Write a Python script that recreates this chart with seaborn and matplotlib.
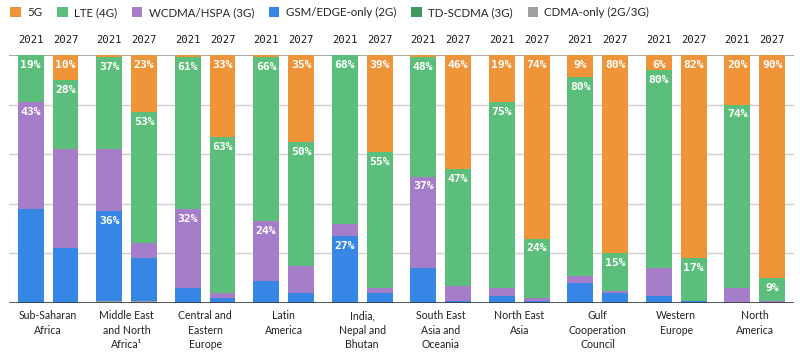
import numpy as np
import pandas as pd
import matplotlib
matplotlib.use("Agg")
import matplotlib.pyplot as plt
import matplotlib.transforms as mtransforms
from matplotlib.patches import Patch
import seaborn as sns

regions = ["Sub-Saharan\nAfrica", "Middle East\nand North\nAfrica\u00b9", "Central and\nEastern\nEurope",
           "Latin\nAmerica", "India,\nNepal and\nBhutan", "South East\nAsia and\nOceania",
           "North East\nAsia", "Gulf\nCooperation\nCouncil", "Western\nEurope", "North\nAmerica"]
years = ["2021", "2027"]
techs = ["5G", "LTE (4G)", "WCDMA/HSPA (3G)", "GSM/EDGE-only (2G)", "TD-SCDMA (3G)", "CDMA-only (2G/3G)"]

g5_2021 = [0, 1, 1, 1, 0, 1, 19, 9, 6, 20]
lte_2021 = [19, 37, 61, 66, 68, 48, 75, 80, 80, 74]
wcdma_2021 = [43, 25, 32, 24, 5, 37, 3, 3, 11, 6]
gsm_2021 = [38, 36, 6, 9, 27, 14, 3, 8, 3, 0]
td_2021 = [0, 0, 0, 0, 0, 0, 0, 0, 0, 0]
cdma_2021 = [0, 1, 0, 0, 0, 0, 0, 0, 0, 0]

g5_2027 = [10, 23, 33, 35, 39, 46, 74, 80, 82, 90]
lte_2027 = [28, 53, 63, 50, 55, 47, 24, 15, 17, 9]
wcdma_2027 = [40, 6, 2, 11, 2, 6, 1, 1, 0, 1]
gsm_2027 = [22, 17, 2, 4, 4, 1, 1, 4, 1, 0]
td_2027 = [0, 0, 0, 0, 0, 0, 0, 0, 0, 0]
cdma_2027 = [0, 1, 0, 0, 0, 0, 0, 0, 0, 0]

# 2G/3G segment labelled in 2021 bars
labelled_2021 = ["WCDMA/HSPA (3G)", "GSM/EDGE-only (2G)", "WCDMA/HSPA (3G)", "WCDMA/HSPA (3G)",
                 "GSM/EDGE-only (2G)", "WCDMA/HSPA (3G)", "", "", "", ""]

colors = {"5G": "#F0943A", "LTE (4G)": "#5BBF7B", "WCDMA/HSPA (3G)": "#A57DC9",
          "GSM/EDGE-only (2G)": "#3586E5", "TD-SCDMA (3G)": "#3E9960", "CDMA-only (2G/3G)": "#A0A0A0"}

series = {
    ("2021", "5G"): g5_2021, ("2021", "LTE (4G)"): lte_2021, ("2021", "WCDMA/HSPA (3G)"): wcdma_2021,
    ("2021", "GSM/EDGE-only (2G)"): gsm_2021, ("2021", "TD-SCDMA (3G)"): td_2021,
    ("2021", "CDMA-only (2G/3G)"): cdma_2021,
    ("2027", "5G"): g5_2027, ("2027", "LTE (4G)"): lte_2027, ("2027", "WCDMA/HSPA (3G)"): wcdma_2027,
    ("2027", "GSM/EDGE-only (2G)"): gsm_2027, ("2027", "TD-SCDMA (3G)"): td_2027,
    ("2027", "CDMA-only (2G/3G)"): cdma_2027,
}

rows = []
for (yr, t), vals in series.items():
    for r, v in zip(regions, vals):
        rows.append(dict(region=r, year=yr, tech=t, value=v))
df = pd.DataFrame(rows)
# cumulative top of each segment (stack bottom-up: CDMA, TD, GSM, WCDMA, LTE, 5G)
stack_order = techs[::-1]
df["order"] = df["tech"].map({t: i for i, t in enumerate(stack_order)})
df = df.sort_values(["region", "year", "order"])
df["cum"] = df.groupby(["region", "year"])["value"].cumsum()

sns.set_theme(style="white")
fig = plt.figure(figsize=(8, 3.58), dpi=100)
ax = fig.add_axes([0.011, 0.1536, 0.9815, 0.6928])

for yv in [20, 40, 60, 80]:
    ax.axhline(yv, color="#D0D0D0", lw=1.0, zorder=0)
ax.axhline(100, color="#9A9A9A", lw=1.2, zorder=0)

layer_containers = {}
for t in techs:  # draw from top layer (largest cumulative) down
    sub = df[df["tech"] == t]
    n0 = len(ax.containers)
    sns.barplot(data=sub, x="region", y="cum", hue="year", order=regions, hue_order=years,
                palette={y: colors[t] for y in years}, dodge=True, width=0.89, gap=0.26,
                saturation=1, errorbar=None, legend=False, linewidth=0, ax=ax, zorder=2)
    layer_containers[t] = ax.containers[n0:n0 + 2]

ax.axhline(0, color="#3A3A3A", lw=1.2, zorder=3)

mono = "DejaVu Sans Mono"
for yi, yr in enumerate(years):
    vals_by_tech = {t: series[(yr, t)] for t in techs}
    for t in techs:
        cont = layer_containers[t][yi]
        for ri, bar in enumerate(cont):
            v = vals_by_tech[t][ri]
            show = False
            if t in ("5G", "LTE (4G)") and v >= 5:
                show = True
            if yr == "2021" and labelled_2021[ri] == t:
                show = True
            if show:
                xc = bar.get_x() + bar.get_width() / 2
                ax.annotate(f"{v}%", (xc, bar.get_height()), xytext=(0, -3.5), textcoords="offset points",
                            ha="center", va="top", color="white", fontsize=8.2, fontweight="semibold",
                            family=mono, zorder=5)

# year labels above bars
trans = mtransforms.blended_transform_factory(ax.transData, ax.transAxes)
for yi, yr in enumerate(years):
    for bar in layer_containers["5G"][yi]:
        xc = bar.get_x() + bar.get_width() / 2
        ax.text(xc, 1.06, yr, transform=trans, ha="center", va="center", fontsize=7.6,
                family=mono, color="#1A1A1A")

ax.set_ylim(0, 100)
ax.set_xlim(-0.5, 9.5)
ax.set_yticks([])
ax.set_xlabel("")
ax.set_ylabel("")
for s in ax.spines.values():
    s.set_visible(False)
ax.tick_params(axis="x", length=0, pad=5)
ax.set_xticks(range(len(regions)))
ax.set_xticklabels(regions, fontsize=7.6, color="#222222", linespacing=1.4,
                   family=["Liberation Sans Narrow", "Lato", "DejaVu Sans"])

handles = [Patch(facecolor=colors[t], edgecolor="none", label=t) for t in techs]
fig.legend(handles=handles, loc="upper left", bbox_to_anchor=(0.0, 1.01), ncol=6, frameon=False,
           handlelength=0.9, handleheight=0.9, handletextpad=0.55, columnspacing=1.3,
           prop={"family": ["Lato", "DejaVu Sans"], "size": 8.3})

fig.savefig("out.png", dpi=100)
